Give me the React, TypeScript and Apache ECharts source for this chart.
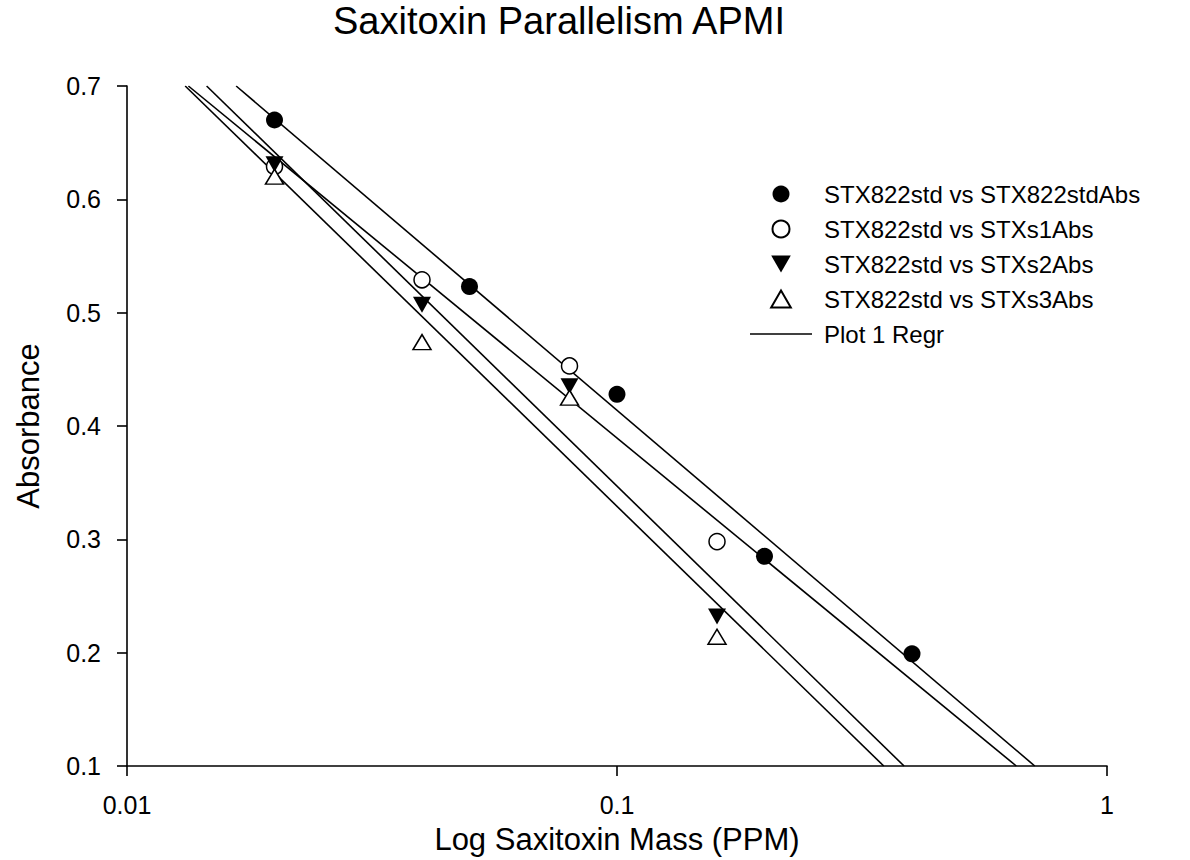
import React, { useEffect, useRef } from "react";
import * as echarts from "echarts";

// ---- data ----
const FONT = "'Liberation Sans', Arial, sans-serif";

const chartTitle = "Saxitoxin Parallelism APMI";
const xAxisName = "Log Saxitoxin Mass (PPM)";
const yAxisName = "Absorbance";

const seriesNames = [
  "STX822std vs STX822stdAbs",
  "STX822std vs STXs1Abs",
  "STX822std vs STXs2Abs",
  "STX822std vs STXs3Abs",
];
const regrName = "Plot 1 Regr";

const stdMass = [0.02, 0.05, 0.1, 0.2, 0.4];
const stdAbs = [0.67, 0.523, 0.428, 0.285, 0.199];

const sampleMass = [0.02, 0.04, 0.08, 0.16];
const s1Abs = [0.629, 0.529, 0.453, 0.298];
const s2Abs = [0.631, 0.507, 0.435, 0.232];
const s3Abs = [0.62, 0.474, 0.425, 0.214];

const yMin = 0.1;
const yMax = 0.7;
const yStep = 0.1;
const xMin = 0.01;
const xMax = 1;

// least-squares fit of absorbance vs log10(mass), drawn across the y range
function regression(xs: number[], ys: number[]): number[][] {
  const lx = xs.map((v) => Math.log10(v));
  const n = lx.length;
  const mx = lx.reduce((a, b) => a + b, 0) / n;
  const my = ys.reduce((a, b) => a + b, 0) / n;
  let sxy = 0;
  let sxx = 0;
  for (let i = 0; i < n; i++) {
    sxy += (lx[i] - mx) * (ys[i] - my);
    sxx += (lx[i] - mx) * (lx[i] - mx);
  }
  const m = sxy / sxx;
  const b = my - m * mx;
  return [
    [Math.pow(10, (yMax - b) / m), yMax],
    [Math.pow(10, (yMin - b) / m), yMin],
  ];
}

const pairs = (xs: number[], ys: number[]) => xs.map((x, i) => [x, ys[i]]);

const TRI_DOWN = "path://M0,0L2,0L1,1.732Z";
const TRI_UP = "path://M1,0L2,1.732L0,1.732Z";
const LINE_ICON = "path://M0,0H62V1.6H0Z";

export default function App() {
  const ref = useRef<HTMLDivElement>(null);

  useEffect(() => {
    if (!ref.current) return;
    const chart = echarts.init(ref.current, undefined, { renderer: "svg" });

    const lineStyle = { color: "#000", width: 1.6 };
    const regrSeries = [
      regression(stdMass, stdAbs),
      regression(sampleMass, s1Abs),
      regression(sampleMass, s2Abs),
      regression(sampleMass, s3Abs),
    ].map((d) => ({
      type: "line",
      name: regrName,
      data: d,
      symbol: "none",
      showSymbol: false,
      lineStyle,
      itemStyle: { color: "#000" },
      z: 2,
      silent: true,
    }));

    chart.setOption({
      animation: false,
      backgroundColor: "#fff",
      title: {
        text: chartTitle,
        left: 333,
        top: 2,
        padding: 0,
        textStyle: {
          fontFamily: FONT,
          fontSize: 38,
          fontWeight: "normal",
          color: "#000",
        },
      },
      legend: {
        orient: "vertical",
        left: 750,
        top: 182,
        padding: 0,
        itemWidth: 62,
        itemHeight: 17,
        itemGap: 11,
        selectedMode: false,
        data: [
          ...seriesNames,
          { name: regrName, icon: LINE_ICON, itemStyle: { color: "#000", borderWidth: 0 } },
        ],
        textStyle: {
          fontFamily: FONT,
          fontSize: 24,
          lineHeight: 24,
          color: "#000",
          padding: [0, 0, 0, 7],
        },
      },
      grid: { left: 127, right: 83, top: 86, bottom: 94 },
      xAxis: {
        type: "log",
        logBase: 10,
        min: xMin,
        max: xMax,
        name: xAxisName,
        nameLocation: "middle",
        nameGap: 58,
        nameTextStyle: { fontFamily: FONT, fontSize: 31, color: "#000" },
        axisLine: { show: true, onZero: false, lineStyle: { color: "#000", width: 1.6 } },
        axisTick: { show: true, inside: false, length: 10, lineStyle: { color: "#000", width: 1.6 } },
        minorTick: { show: false },
        splitLine: { show: false },
        axisLabel: {
          margin: 26,
          fontFamily: FONT,
          fontSize: 25,
          color: "#000",
          formatter: (v: number) => String(+v.toPrecision(3)),
        },
      },
      yAxis: {
        type: "value",
        min: yMin,
        max: yMax,
        interval: yStep,
        name: yAxisName,
        nameLocation: "middle",
        nameGap: 83,
        nameTextStyle: { fontFamily: FONT, fontSize: 31, color: "#000" },
        axisLine: { show: true, lineStyle: { color: "#000", width: 1.6 } },
        axisTick: { show: true, inside: false, length: 10, lineStyle: { color: "#000", width: 1.6 } },
        splitLine: { show: false },
        axisLabel: {
          margin: 26,
          fontFamily: FONT,
          fontSize: 25,
          color: "#000",
          formatter: (v: number) => v.toFixed(1),
        },
      },
      series: [
        ...regrSeries,
        {
          type: "scatter",
          name: seriesNames[0],
          data: pairs(stdMass, stdAbs),
          symbol: "circle",
          symbolSize: 17,
          itemStyle: { color: "#000", opacity: 1 },
          z: 5,
        },
        {
          type: "scatter",
          name: seriesNames[1],
          data: pairs(sampleMass, s1Abs),
          symbol: "circle",
          symbolSize: 16,
          itemStyle: { color: "#fff", borderColor: "#000", borderWidth: 1.5, opacity: 1 },
          z: 5,
        },
        {
          type: "scatter",
          name: seriesNames[2],
          data: pairs(sampleMass, s2Abs),
          symbol: TRI_DOWN,
          symbolSize: [18, 16],
          itemStyle: { color: "#000", opacity: 1 },
          z: 5,
        },
        {
          type: "scatter",
          name: seriesNames[3],
          data: pairs(sampleMass, s3Abs),
          symbol: TRI_UP,
          symbolSize: [18, 15],
          itemStyle: { color: "#fff", borderColor: "#000", borderWidth: 1.5, opacity: 1 },
          z: 5,
        },
      ],
    });

    return () => chart.dispose();
  }, []);

  return (
    <div
      ref={ref}
      style={{ position: "fixed", left: 0, top: 0, width: 1190, height: 860, background: "#fff" }}
    />
  );
}
